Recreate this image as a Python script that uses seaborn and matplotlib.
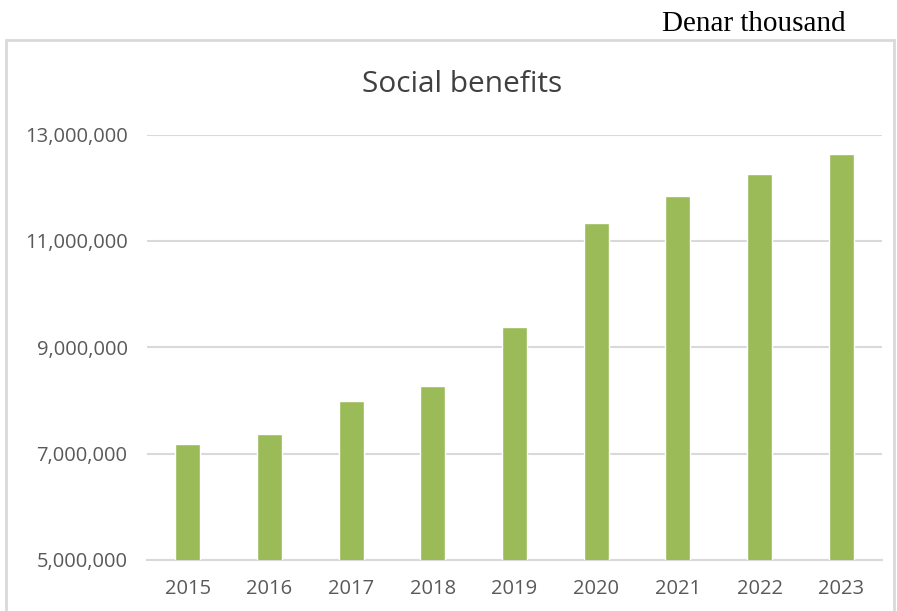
import matplotlib
matplotlib.use("Agg")
import matplotlib.pyplot as plt
import seaborn as sns
import pandas as pd
from matplotlib.ticker import FuncFormatter
from matplotlib.patches import Rectangle

years = ["2015", "2016", "2017", "2018", "2019", "2020", "2021", "2022", "2023"]
values = [7190000, 7370000, 7990000, 8270000, 9380000, 11340000, 11850000, 12260000, 12640000]
yticks = [5000000, 7000000, 9000000, 11000000, 13000000]

df = pd.DataFrame({"year": years, "value": values})

sns.set_theme(style="white")
plt.rcParams['font.family'] = ['Open Sans', 'DejaVu Sans']

fig = plt.figure(figsize=(8.97, 6.11), dpi=100)
ax = fig.add_axes([147/897, 1 - 560/611, (882-147)/897, (560-134.5)/611])

sns.barplot(data=df, x="year", y="value", color="#9BBB59", width=0.31,
            saturation=1, ax=ax, zorder=3)

ax.set_ylim(5000000, 13000000)
ax.set_yticks(yticks)
ax.yaxis.set_major_formatter(FuncFormatter(lambda v, p: f"{int(v):,}"))
ax.grid(axis="y", color="#D9D9D9", linewidth=1.5, zorder=0)
ax.grid(axis="x", visible=False)
for s in ["top", "right", "left"]:
    ax.spines[s].set_visible(False)
ax.spines["bottom"].set_color("#D9D9D9")
ax.spines["bottom"].set_linewidth(1.5)
ax.set_xlabel("")
ax.set_ylabel("")
ax.tick_params(axis="both", length=0, labelsize=14.5, labelcolor="#595959")
ax.tick_params(axis="x", pad=14)
ax.tick_params(axis="y", pad=14)

# chart border
fig.patches.append(Rectangle((6/897, -0.05), (894-6)/897, 1 - 40/611 + 0.05,
                             transform=fig.transFigure, fill=False,
                             edgecolor="#D9D9D9", linewidth=2))

fig.text(462/897, 1 - 85/611, "Social benefits", ha="center", va="center",
         fontsize=21.5, color="#404040")
fig.text(846/897, 1 - 24/611, "Denar thousand", ha="right", va="center",
         fontsize=21, color="black", family=["Liberation Serif", "DejaVu Serif"])

fig.savefig("out.png", dpi=100)
